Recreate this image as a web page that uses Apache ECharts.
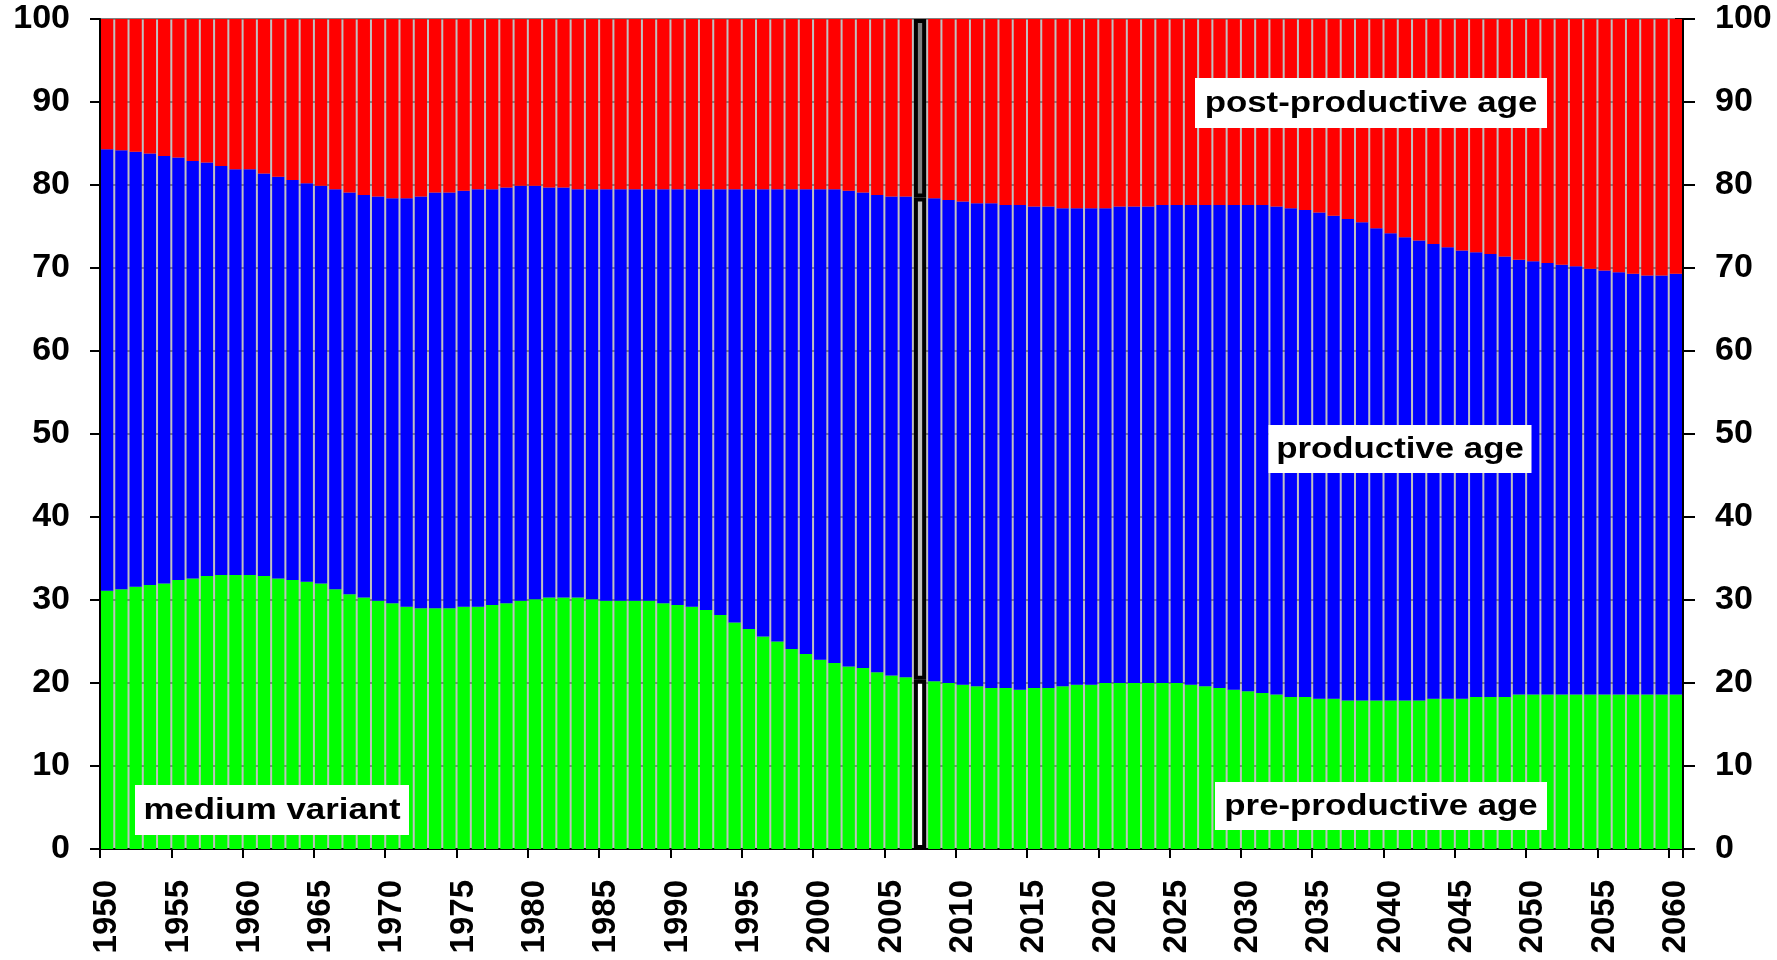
<!DOCTYPE html>
<html>
<head>
<meta charset="utf-8">
<script src="https://cdn.jsdelivr.net/npm/echarts@6/dist/echarts.min.js"></script>
<style>
  html, body { margin: 0; padding: 0; background: #ffffff; }
  #chart { width: 1777px; height: 960px; }
</style>
</head>
<body>
<div id="chart"></div>
<script>
// ---- data (shares of population, %) ----
const years = [
  '1950','1951','1952','1953','1954','1955','1956','1957','1958','1959',
  '1960','1961','1962','1963','1964','1965','1966','1967','1968','1969',
  '1970','1971','1972','1973','1974','1975','1976','1977','1978','1979',
  '1980','1981','1982','1983','1984','1985','1986','1987','1988','1989',
  '1990','1991','1992','1993','1994','1995','1996','1997','1998','1999',
  '2000','2001','2002','2003','2004','2005','2006','2007','2008','2009',
  '2010','2011','2012','2013','2014','2015','2016','2017','2018','2019',
  '2020','2021','2022','2023','2024','2025','2026','2027','2028','2029',
  '2030','2031','2032','2033','2034','2035','2036','2037','2038','2039',
  '2040','2041','2042','2043','2044','2045','2046','2047','2048','2049',
  '2050','2051','2052','2053','2054','2055','2056','2057','2058','2059',
  '2060'
];

const preProductive = [
  31.1,31.3,31.6,31.8,32.0,32.4,32.6,32.9,33.0,33.0,
  33.0,32.9,32.6,32.4,32.2,32.0,31.3,30.7,30.3,29.9,
  29.6,29.2,29.0,29.0,29.0,29.2,29.2,29.4,29.6,29.9,
  30.1,30.3,30.3,30.3,30.1,29.9,29.9,29.9,29.9,29.6,
  29.4,29.2,28.8,28.2,27.3,26.5,25.6,25.0,24.1,23.5,
  22.8,22.4,22.0,21.8,21.3,20.9,20.7,20.4,20.2,20.0,
  19.8,19.6,19.4,19.4,19.2,19.4,19.4,19.6,19.8,19.8,
  20.0,20.0,20.0,20.0,20.0,20.0,19.8,19.6,19.4,19.2,
  19.0,18.8,18.6,18.3,18.3,18.1,18.1,17.9,17.9,17.9,
  17.9,17.9,17.9,18.1,18.1,18.1,18.3,18.3,18.3,18.6,
  18.6,18.6,18.6,18.6,18.6,18.6,18.6,18.6,18.6,18.6,
  18.6
];

const productive = [
  53.2,52.9,52.4,52.0,51.5,50.9,50.3,49.8,49.3,48.9,
  48.9,48.5,48.4,48.2,48.0,47.9,48.2,48.4,48.5,48.7,
  48.8,49.2,49.6,50.1,50.1,50.1,50.3,50.1,50.1,50.0,
  49.8,49.4,49.4,49.2,49.4,49.6,49.6,49.6,49.6,49.9,
  50.1,50.3,50.7,51.3,52.2,53.0,53.9,54.5,55.4,56.0,
  56.7,57.1,57.3,57.3,57.5,57.7,57.9,58.1,58.2,58.2,
  58.2,58.2,58.4,58.2,58.4,58.0,58.0,57.6,57.4,57.4,
  57.2,57.4,57.4,57.4,57.6,57.6,57.8,58.0,58.2,58.4,
  58.6,58.8,58.8,58.9,58.7,58.6,58.2,58.0,57.6,56.9,
  56.3,55.8,55.4,54.8,54.4,54.0,53.6,53.4,53.1,52.4,
  52.2,52.0,51.8,51.6,51.3,51.1,50.9,50.7,50.5,50.5,
  50.7
];

const postProductive = [
  15.7,15.8,16.0,16.2,16.5,16.7,17.1,17.3,17.7,18.1,
  18.1,18.6,19.0,19.4,19.8,20.1,20.5,20.9,21.2,21.4,
  21.6,21.6,21.4,20.9,20.9,20.7,20.5,20.5,20.3,20.1,
  20.1,20.3,20.3,20.5,20.5,20.5,20.5,20.5,20.5,20.5,
  20.5,20.5,20.5,20.5,20.5,20.5,20.5,20.5,20.5,20.5,
  20.5,20.5,20.7,20.9,21.2,21.4,21.4,21.5,21.6,21.8,
  22.0,22.2,22.2,22.4,22.4,22.6,22.6,22.8,22.8,22.8,
  22.8,22.6,22.6,22.6,22.4,22.4,22.4,22.4,22.4,22.4,
  22.4,22.4,22.6,22.8,23.0,23.3,23.7,24.1,24.5,25.2,
  25.8,26.3,26.7,27.1,27.5,27.9,28.1,28.3,28.6,29.0,
  29.2,29.4,29.6,29.8,30.1,30.3,30.5,30.7,30.9,30.9,
  30.7
];

const highlightYear = '2007';
const seriesNames = ['pre-productive age', 'productive age', 'post-productive age'];
const seriesColors = ['#00ff00', '#0000ff', '#ff0000'];
const highlightColors = ['#ffffff', '#c0c0c0', '#808080'];

// ---- chart ----
const FONT = '"Liberation Sans", Arial, sans-serif';
const chart = echarts.init(document.getElementById('chart'), null, { renderer: 'canvas' });
const hIdx = years.indexOf(highlightYear);

function buildData(values, k) {
  return values.map((v, i) => i === hIdx
    ? { value: v, itemStyle: { color: highlightColors[k], borderColor: '#000000', borderWidth: 4 } }
    : v);
}

const yLabel = { fontFamily: FONT, fontWeight: 'bold', fontSize: 34, color: '#000' };

function annotation(text, cx, cy, w, h) {
  return [
    { type: 'rect', z: 100, zlevel: 0,
      shape: { x: cx - w / 2, y: cy - h / 2, width: w, height: h },
      style: { fill: '#ffffff', stroke: null } },
    { type: 'text', z: 101, zlevel: 0, x: cx, y: cy + 1, scaleX: 1.2, scaleY: 1,
      style: { text: text, fill: '#000000', font: 'bold 29px ' + FONT,
               align: 'center', verticalAlign: 'middle' } }
  ];
}

const option = {
  animation: false,
  backgroundColor: '#ffffff',
  grid: { left: 100, right: 94, top: 19, bottom: 111, show: true,
          backgroundColor: '#c0c0c0', borderWidth: 0 },
  xAxis: {
    type: 'category',
    data: years,
    boundaryGap: true,
    axisLine: { show: true, lineStyle: { color: '#000', width: 2 } },
    axisTick: { show: true, interval: 4, alignWithLabel: false, length: 9,
                lineStyle: { color: '#000', width: 2 } },
    axisLabel: { interval: 4, rotate: 90, margin: 31, fontFamily: FONT,
                 fontWeight: 'bold', fontSize: 33, color: '#000' },
    splitLine: { show: false }
  },
  yAxis: [
    {
      type: 'value', position: 'left', min: 0, max: 100, interval: 10,
      axisLine: { show: true, lineStyle: { color: '#000', width: 2 } },
      axisTick: { show: true, length: 10, lineStyle: { color: '#000', width: 2 } },
      axisLabel: Object.assign({ margin: 30 }, yLabel),
      splitLine: { show: true, lineStyle: { color: '#808080', width: 2 } }
    },
    {
      type: 'value', position: 'right', min: 0, max: 100, interval: 10,
      axisLine: { show: true, onZero: false, lineStyle: { color: '#000', width: 2 } },
      axisTick: { show: true, length: 12, lineStyle: { color: '#000', width: 2 } },
      axisLabel: Object.assign({ margin: 32 }, yLabel),
      splitLine: { show: false }
    },
    {
      type: 'value', position: 'right', min: 0, max: 100, interval: 10,
      axisLine: { show: false },
      axisTick: { show: true, inside: true, length: 8, lineStyle: { color: '#000', width: 2 } },
      axisLabel: { show: false },
      splitLine: { show: false }
    }
  ],
  series: [preProductive, productive, postProductive].map((vals, k) => ({
    name: seriesNames[k],
    type: 'bar',
    stack: 'total',
    yAxisIndex: 0,
    barCategoryGap: '14%',
    itemStyle: { color: seriesColors[k] },
    data: buildData(vals, k)
  })),
  graphic: [].concat(
    annotation('post-productive age', 1371, 103, 352, 50),
    annotation('productive age', 1400, 449, 263, 48),
    annotation('pre-productive age', 1381, 806, 332, 48),
    annotation('medium variant', 272, 810, 274, 50)
  )
};

chart.setOption(option);
</script>
</body>
</html>
